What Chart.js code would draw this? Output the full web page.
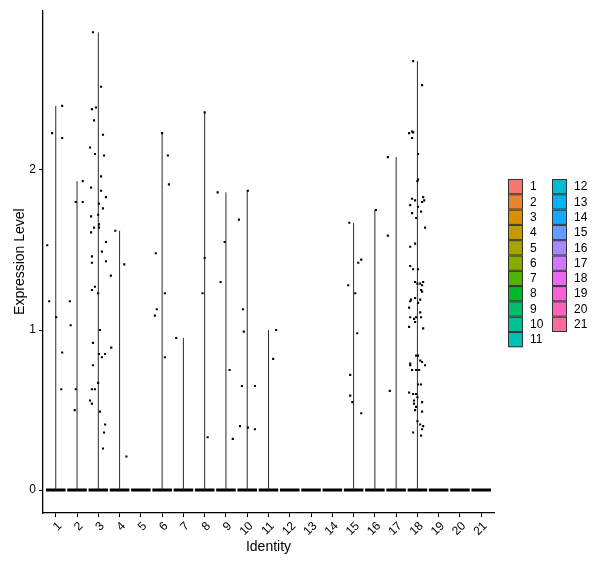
<!DOCTYPE html>
<html>
<head>
<meta charset="utf-8">
<script src="https://cdn.jsdelivr.net/npm/chart.js@4.4.1/dist/chart.umd.min.js"></script>
<style>
  html, body { margin: 0; padding: 0; background: #fff; }
  #wrap { width: 600px; height: 568px; position: relative; }
</style>
</head>
<body>
<div id="wrap"><canvas id="vln"></canvas></div>
<script>
// cluster identities
const identities = ['1','2','3','4','5','6','7','8','9','10','11','12','13','14','15','16','17','18','19','20','21'];

// expression values of the non-zero cells, per identity
const values = [
  [2.40, 2.23, 2.20, 1.53, 1.18, 1.08, 0.86, 0.63],
  [1.93, 1.80, 1.80, 1.18, 1.03, 0.63, 0.50],
  [2.86, 2.52, 2.38, 2.39, 2.31, 2.22, 2.14, 2.10, 2.09, 1.96, 1.89, 1.87, 1.83, 1.79, 1.76, 1.71, 1.72, 1.64, 1.66, 1.64,
   1.61, 1.55, 1.49, 1.46, 1.42, 1.43, 1.27, 1.25, 1.23, 1.00, 0.92, 0.85, 0.85, 0.83, 0.78, 0.63, 0.63, 0.67, 0.56, 0.54,
   0.49, 0.41, 0.36, 0.26],
  [1.62, 1.41, 1.34, 0.89, 0.21],
  [],
  [2.23, 2.09, 1.91, 1.48, 1.23, 1.13, 1.09, 0.83],
  [0.95],
  [2.36, 1.45, 1.23, 0.33],
  [1.86, 1.55, 1.30, 0.75, 0.32],
  [1.87, 1.69, 1.13, 0.99, 0.65, 0.65, 0.40, 0.39, 0.38],
  [1.00, 0.82],
  [],
  [],
  [],
  [1.67, 1.44, 1.42, 1.28, 1.23, 0.98, 0.72, 0.59, 0.55, 0.48],
  [1.75],
  [2.08, 1.59, 0.62],
  [2.68, 2.53, 2.23, 2.24, 2.235, 2.20, 2.10, 1.94, 1.93, 1.82, 1.81, 1.83, 1.81, 1.80, 1.78, 1.77, 1.74, 1.73, 1.70, 1.64,
   1.54, 1.52, 1.40, 1.38, 1.38, 1.30, 1.29, 1.29, 1.30, 1.28, 1.25, 1.24, 1.20, 1.19, 1.18, 1.19, 1.17, 1.14, 1.11, 1.08,
   1.07, 1.08, 1.08, 1.05, 1.02, 1.01, 0.84, 0.84, 0.81, 0.79, 0.78, 0.78, 0.80, 0.75, 0.75, 0.75, 0.66, 0.66, 0.61, 0.60,
   0.60, 0.58, 0.56, 0.55, 0.54, 0.52, 0.50, 0.49, 0.43, 0.41, 0.40, 0.38, 0.36, 0.34],
  [],
  [],
  []
];

// horizontal jitter of each point (category units)
const jitter = [
  [0.30, -0.17, 0.30, -0.40, -0.31, 0.02, 0.30, 0.26],
  [0.27, -0.06, 0.27, -0.34, -0.30, -0.06, -0.11],
  [-0.25, 0.13, -0.30, -0.11, -0.20, 0.22, -0.39, -0.16, 0.27, 0.13, -0.34, 0.13, 0.36, 0.03, 0.22, -0.34, -0.01, -0.20, 0.03, 0.03,
   -0.34, 0.36, 0.17, -0.30, -0.30, 0.36, -0.16, -0.30, -0.01, 0.08, -0.25, 0.03, 0.32, 0.17, -0.25, -0.30, -0.16, -0.01, -0.39, -0.30,
   0.08, 0.32, 0.27, 0.22],
  [-0.20, 0.22, -0.41, -0.39, 0.32],
  [],
  [0.00, 0.27, 0.32, -0.30, 0.13, -0.25, -0.34, 0.13],
  [-0.34],
  [0.00, 0.00, -0.10, 0.14],
  [-0.39, -0.06, -0.25, 0.17, 0.32],
  [0.03, -0.39, -0.20, -0.16, -0.25, 0.36, -0.34, 0.03, 0.36],
  [0.36, 0.22],
  [],
  [],
  [],
  [-0.20, 0.36, 0.22, -0.25, 0.08, 0.17, -0.16, -0.16, -0.06, 0.36],
  [0.05],
  [-0.39, -0.39, -0.30],
  [-0.20, 0.22, -0.39, -0.25, -0.20, -0.25, 0.03, 0.03, 0.00, -0.25, -0.11, 0.27, 0.32, 0.22, -0.34, 0.03, 0.17, -0.25, -0.06, 0.36,
   -0.11, -0.34, -0.34, -0.20, 0.03, -0.11, 0.00, 0.13, 0.27, 0.22, 0.17, 0.22, -0.11, -0.30, -0.34, 0.13, 0.03, -0.39, 0.13, -0.34,
   -0.16, -0.06, 0.17, -0.11, -0.39, 0.27, 0.03, -0.06, 0.13, -0.34, -0.34, 0.36, 0.22, -0.25, -0.06, 0.08, 0.03, 0.17, -0.39, -0.20,
   -0.06, 0.00, -0.16, 0.22, -0.16, -0.06, -0.11, 0.22, 0.00, 0.13, 0.27, 0.22, -0.20, 0.17],
  [],
  [],
  []
];

const yTicks = [0, 1, 2];

const fills = ['#F8766D','#EB8335','#DA8F00','#C49A00','#A9A300','#86AC00','#4FB400','#00B92A','#00BE6C','#00C094','#00C0B5',
               '#00BDD2','#00B4EF','#14A9FF','#619CFF','#A58AFF','#D077FD','#EB69EF','#FB61D7','#FF63B9','#FF6B96'];

const font = "'Liberation Sans', Arial, sans-serif";

const datasets = [];
const pts = [];
identities.forEach((id, i) => {
  const x = i + 1;
  const v = values[i];
  const top = v.length ? Math.max(...v) : 0;
  // flat violin body at zero
  datasets.push({
    data: [{x: x - 0.46, y: 0}, {x: x + 0.46, y: 0}],
    showLine: true, borderColor: '#000', borderWidth: 3, pointRadius: 0, order: 2
  });
  // thin violin tail up to the max value
  if (top > 0) {
    datasets.push({
      data: [{x: x, y: 0}, {x: x, y: top}],
      showLine: true, borderColor: '#2b2b2b', borderWidth: 1, pointRadius: 0, order: 1
    });
  }
  v.forEach((val, k) => pts.push({x: x + jitter[i][k], y: val}));
});
datasets.push({
  data: pts, pointStyle: 'rect', pointRadius: 1.5, pointBorderWidth: 0,
  backgroundColor: '#000', borderColor: '#000', order: 0
});

const legendPlugin = {
  id: 'identLegend',
  afterDraw(chart) {
    const c = chart.ctx;
    c.save();
    c.font = '12px ' + font;
    c.textBaseline = 'middle';
    c.textAlign = 'left';
    identities.forEach((id, i) => {
      const col = i < 11 ? 0 : 1;
      const row = i < 11 ? i : i - 11;
      const bx = 508 + col * 44;
      const by = 179 + row * 15.3;
      c.fillStyle = fills[i];
      c.fillRect(bx, by, 14, 15);
      c.strokeStyle = '#333';
      c.lineWidth = 1;
      c.strokeRect(bx + 0.5, by + 0.5, 14, 14.3);
      c.fillStyle = '#000';
      c.fillText(id, bx + 22, by + 8);
    });
    c.restore();
  }
};

new Chart(document.getElementById('vln'), {
  type: 'scatter',
  data: { datasets: datasets },
  options: {
    responsive: true,
    maintainAspectRatio: false,
    animation: false,
    layout: { padding: { top: 3, right: 106, bottom: 8, left: 8 } },
    plugins: { legend: { display: false }, tooltip: { enabled: false } },
    scales: {
      x: {
        type: 'linear', min: 0.4, max: 21.6,
        afterBuildTicks: s => { s.ticks = identities.map((id, i) => ({ value: i + 1 })); },
        afterFit: s => { s.height = 47; },
        ticks: {
          autoSkip: false, minRotation: 45, maxRotation: 45, padding: 2, labelOffset: 4,
          color: '#000', font: { family: font, size: 12 },
          callback: (v, i) => identities[i]
        },
        grid: { drawOnChartArea: false, tickLength: 4, color: '#000' },
        border: { display: true, color: '#000', width: 1.3 },
        title: { display: true, text: 'Identity', color: '#000', font: { family: font, size: 14 }, padding: { top: 2, bottom: 4 } }
      },
      y: {
        type: 'linear', min: -0.143, max: 2.998,
        afterBuildTicks: s => { s.ticks = yTicks.map(v => ({ value: v })); },
        afterFit: s => { s.width = 35; },
        ticks: { color: '#000', font: { family: font, size: 12 }, padding: 3, callback: v => String(v) },
        grid: { drawOnChartArea: false, tickLength: 4, color: '#000' },
        border: { display: true, color: '#000', width: 1.3 },
        title: { display: true, text: 'Expression Level', color: '#000', font: { family: font, size: 14 }, padding: { top: 4, bottom: 4 } }
      }
    }
  },
  plugins: [legendPlugin]
});
</script>
</body>
</html>
